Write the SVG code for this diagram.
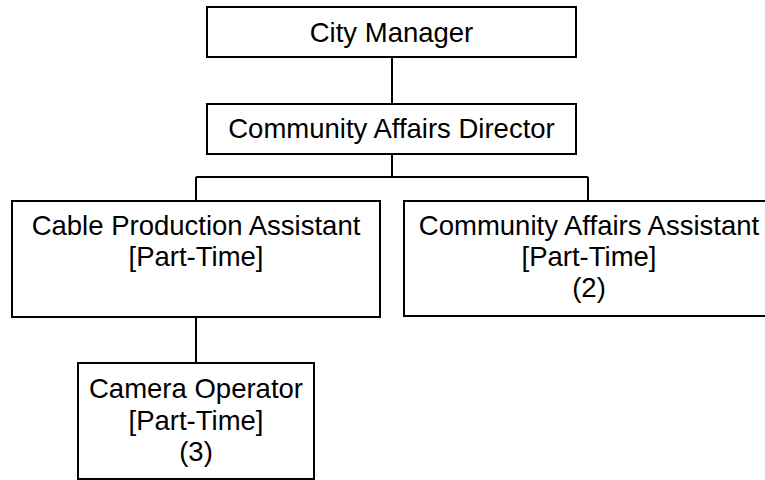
<svg xmlns="http://www.w3.org/2000/svg" width="765" height="480" viewBox="0 0 765 480">
<style>
.box{fill:#fff;stroke:#000;stroke-width:2}
.ln{fill:none;stroke:#000;stroke-width:2}
text{font-family:"Liberation Sans",Arial,sans-serif;font-size:27.5px;fill:#000;text-anchor:middle}
</style>
<rect width="765" height="480" fill="#fff"/>
<g id="connectors">
<path class="ln" d="M392 57V104M392 154V177M196 177H588M196 177V201M588 177V201M196 317V363"/>
</g>
<g id="city-manager">
<rect class="box" x="207" y="7" width="369" height="50"/>
<text x="391.5" y="42">City Manager</text>
</g>
<g id="community-affairs-director">
<rect class="box" x="207" y="104" width="369" height="50"/>
<text x="391.5" y="138">Community Affairs Director</text>
</g>
<g id="cable-production-assistant">
<rect class="box" x="12" y="201" width="368" height="116"/>
<text x="196" y="235">Cable Production Assistant</text>
<text x="196" y="266">[Part-Time]</text>
</g>
<g id="community-affairs-assistant">
<rect class="box" x="404" y="201" width="368" height="115"/>
<text x="589" y="235">Community Affairs Assistant</text>
<text x="589" y="266">[Part-Time]</text>
<text x="589" y="297">(2)</text>
</g>
<g id="camera-operator">
<rect class="box" x="78" y="363" width="236" height="116"/>
<text x="196" y="398">Camera Operator</text>
<text x="196" y="430">[Part-Time]</text>
<text x="196" y="461">(3)</text>
</g>
</svg>
